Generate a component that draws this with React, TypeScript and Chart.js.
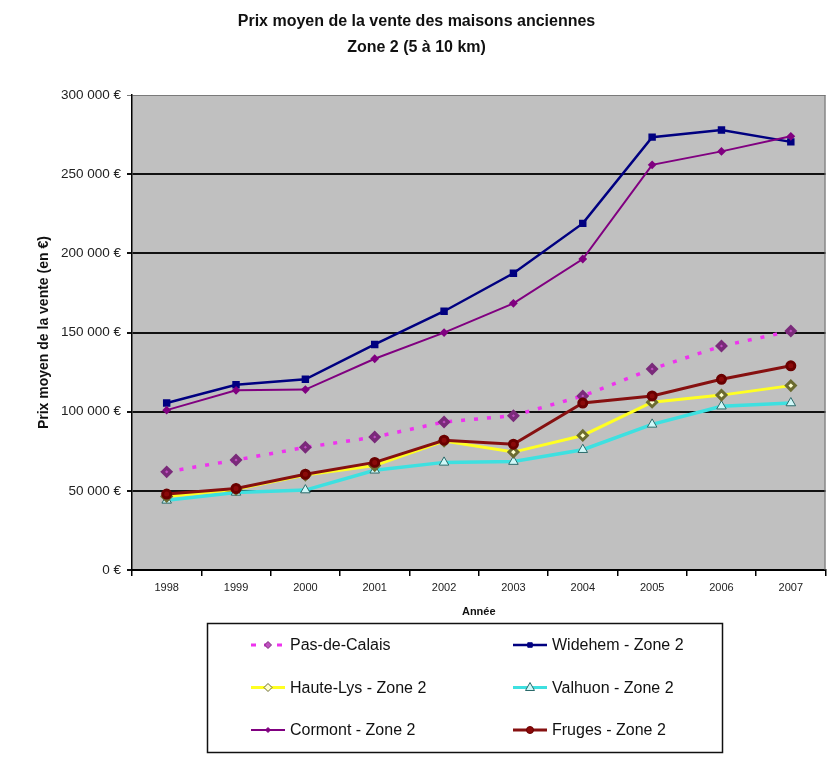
import React, { useEffect, useRef } from "react";
import { Chart, registerables } from "chart.js";

Chart.register(...registerables);

const years = ["1998", "1999", "2000", "2001", "2002", "2003", "2004", "2005", "2006", "2007"];
const pasDeCalais = [62000, 69500, 77500, 84000, 93500, 97500, 110000, 127000, 141500, 151000];
const widehem = [105500, 117000, 120500, 142500, 163500, 187500, 219000, 273500, 278000, 270500];
const hauteLys = [46500, 51000, 60000, 66000, 81500, 74500, 85000, 106000, 110500, 116500];
const valhuon = [44000, 49000, 50500, 63000, 68000, 68500, 76000, 92000, 103500, 105500];
const cormont = [101000, 113500, 114000, 133500, 150000, 168500, 196500, 256000, 264500, 274000];
const fruges = [48000, 51500, 60500, 68000, 82000, 79500, 105500, 110000, 120500, 129000];

const titleLines = ["Prix moyen de la vente des maisons anciennes", "Zone 2 (5 à 10 km)"];
const yTitle = "Prix moyen de la vente (en €)";
const xTitle = "Année";

const SANS = "'Liberation Sans', Arial, sans-serif";

const fmtEuro = (v: number) => {
  const s = Math.round(v).toString().replace(/\B(?=(\d{3})+(?!\d))/g, " ");
  return s + " €";
};

const bgPlugin = {
  id: "plotBg",
  beforeDraw(chart: any) {
    const { ctx, chartArea } = chart;
    const { left, top, right, bottom } = chartArea;
    ctx.save();
    ctx.fillStyle = "#c0c0c0";
    ctx.fillRect(left, top, right - left, bottom - top);
    ctx.restore();
  },
  afterDatasetsDraw(chart: any) {
    const { ctx, chartArea } = chart;
    ctx.save();
    ctx.strokeStyle = "#6a6a6a";
    ctx.lineWidth = 1;
    ctx.beginPath();
    ctx.moveTo(chartArea.right - 0.5, chartArea.top);
    ctx.lineTo(chartArea.right - 0.5, chartArea.bottom);
    ctx.stroke();
    ctx.restore();
  },
};

function drawMarker(ctx: CanvasRenderingContext2D, style: string, x: number, y: number, r: number, fill: string, stroke: string) {
  ctx.save();
  ctx.fillStyle = fill;
  ctx.strokeStyle = stroke;
  ctx.lineWidth = 1;
  ctx.setLineDash([]);
  ctx.beginPath();
  if (style === "rectRot") {
    ctx.moveTo(x, y - r);
    ctx.lineTo(x + r, y);
    ctx.lineTo(x, y + r);
    ctx.lineTo(x - r, y);
    ctx.closePath();
  } else if (style === "rect") {
    ctx.rect(x - r * 0.75, y - r * 0.75, r * 1.5, r * 1.5);
  } else if (style === "triangle") {
    ctx.moveTo(x, y - r);
    ctx.lineTo(x + r * 0.9, y + r * 0.6);
    ctx.lineTo(x - r * 0.9, y + r * 0.6);
    ctx.closePath();
  } else {
    ctx.arc(x, y, r, 0, Math.PI * 2);
  }
  ctx.fill();
  ctx.stroke();
  ctx.restore();
}

const legendPlugin = {
  id: "boxLegend",
  afterDraw(chart: any) {
    const { ctx } = chart;
    const bx = 207, by = 623, bw = 515, bh = 129;
    ctx.save();
    ctx.strokeStyle = "#111";
    ctx.lineWidth = 1.5;
    ctx.strokeRect(bx + 0.5, by + 0.5, bw, bh);
    chart.data.datasets.forEach((ds: any, k: number) => {
      const col = k % 2;
      const row = Math.floor(k / 2);
      const x0 = col === 0 ? 251 : 513;
      const y = by + 22 + row * 42.5;
      const len = 34;
      ctx.save();
      ctx.strokeStyle = ds.borderColor;
      ctx.lineWidth = Math.min(ds.borderWidth, 3);
      ctx.lineCap = "butt";
      if (ds.borderDash) {
        ctx.setLineDash([5, 8]);
        ctx.lineDashOffset = 0;
      }
      ctx.beginPath();
      ctx.moveTo(x0, y);
      ctx.lineTo(x0 + len, y);
      ctx.stroke();
      ctx.restore();
      drawMarker(ctx, ds.pointStyle, x0 + len / 2, y, Math.max(ds.pointRadius - 0.5, 2.5), ds.pointBackgroundColor, ds.pointBorderColor);
      ctx.fillStyle = "#111";
      ctx.font = "16px " + SANS;
      ctx.textBaseline = "middle";
      ctx.textAlign = "left";
      ctx.fillText(ds.label, x0 + len + 5, y + 1);
    });
    ctx.restore();
  },
};

export default function App() {
  const ref = useRef<HTMLCanvasElement | null>(null);

  useEffect(() => {
    document.body.style.margin = "0";
    const canvas = ref.current;
    if (!canvas) return;
    const chart = new Chart(canvas, {
      type: "line",
      data: {
        labels: years,
        datasets: [
          {
            label: "Pas-de-Calais",
            data: pasDeCalais,
            borderColor: "#ee33ee",
            borderWidth: 3.5,
            borderDash: [4, 9],
            borderCapStyle: "butt",
            pointStyle: "rectRot",
            pointRadius: 4,
            pointBackgroundColor: "#c050c0",
            pointBorderColor: "#7a2a7a",
            order: 3,
          },
          {
            label: "Widehem - Zone 2",
            data: widehem,
            borderColor: "#000080",
            borderWidth: 2.5,
            pointStyle: "rect",
            pointRadius: 3.5,
            pointBackgroundColor: "#000080",
            pointBorderColor: "#000080",
            order: 6,
          },
          {
            label: "Haute-Lys - Zone 2",
            data: hauteLys,
            borderColor: "#ffff22",
            borderWidth: 3,
            pointStyle: "rectRot",
            pointRadius: 4.5,
            pointBackgroundColor: "#ffffd0",
            pointBorderColor: "#6b6b30",
            order: 4,
          },
          {
            label: "Valhuon - Zone 2",
            data: valhuon,
            borderColor: "#3ee0e0",
            borderWidth: 3.5,
            pointStyle: "triangle",
            pointRadius: 5.5,
            pointBorderWidth: 1,
            pointBackgroundColor: "#d0f8f8",
            pointBorderColor: "#2a6a6a",
            order: 5,
          },
          {
            label: "Cormont - Zone 2",
            data: cormont,
            borderColor: "#800080",
            borderWidth: 2,
            pointStyle: "rectRot",
            pointRadius: 3,
            pointBackgroundColor: "#800080",
            pointBorderColor: "#800080",
            order: 2,
          },
          {
            label: "Fruges - Zone 2",
            data: fruges,
            borderColor: "#861010",
            borderWidth: 3,
            pointStyle: "circle",
            pointRadius: 4,
            pointBackgroundColor: "#8b0a0a",
            pointBorderColor: "#6a0000",
            order: 1,
          },
        ],
      },
      options: {
        animation: false,
        responsive: false,
        maintainAspectRatio: false,
        layout: { padding: { left: 0, right: 0, top: 0, bottom: 0 } },
        elements: { line: { tension: 0 } },
        plugins: {
          legend: { display: false },
          tooltip: { enabled: false },
          title: {
            display: true,
            text: titleLines,
            color: "#111",
            font: { family: SANS, size: 16, weight: "bold", lineHeight: 1.6 },
            padding: { top: 9, bottom: 35 },
          },
        },
        scales: {
          x: {
            type: "category",
            offset: true,
            afterFit(scale: any) {
              scale.height = 187;
              scale.paddingLeft = 0;
              scale.paddingRight = 0;
            },
            grid: {
              offset: true,
              drawOnChartArea: false,
              drawTicks: true,
              tickLength: 6,
              color: "#000",
              lineWidth: 1.5,
            },
            border: { display: true, color: "#000", width: 2 },
            ticks: {
              color: "#222",
              padding: 5,
              maxRotation: 0,
              autoSkip: false,
              font: { family: SANS, size: 11 },
            },
            title: {
              display: true,
              text: xTitle,
              color: "#111",
              font: { family: SANS, size: 11, weight: "bold" },
              padding: { top: 4, bottom: 138 },
            },
          },
          y: {
            min: 0,
            max: 300000,
            afterFit(scale: any) {
              scale.width = 132;
            },
            grid: {
              drawTicks: true,
              tickLength: 5,
              color: (c: any) => (c.tick && c.tick.value === 300000 ? "#7a7a7a" : "#111"),
              lineWidth: (c: any) => (c.tick && c.tick.value === 300000 ? 1 : 2),
            },
            border: { display: true, color: "#000", width: 1.5 },
            ticks: {
              stepSize: 50000,
              color: "#222",
              padding: 6,
              font: { family: SANS, size: 13.5 },
              callback: (v: any) => fmtEuro(Number(v)),
            },
            title: {
              display: true,
              text: yTitle,
              color: "#111",
              font: { family: SANS, size: 14, weight: "bold" },
              padding: { top: 36, bottom: 0 },
            },
          },
        },
      },
      plugins: [bgPlugin, legendPlugin],
    } as any);
    return () => chart.destroy();
  }, []);

  return (
    <div style={{ width: 827, height: 757, overflow: "hidden" }}>
      <canvas ref={ref} width={833} height={757} style={{ display: "block" }} />
    </div>
  );
}
